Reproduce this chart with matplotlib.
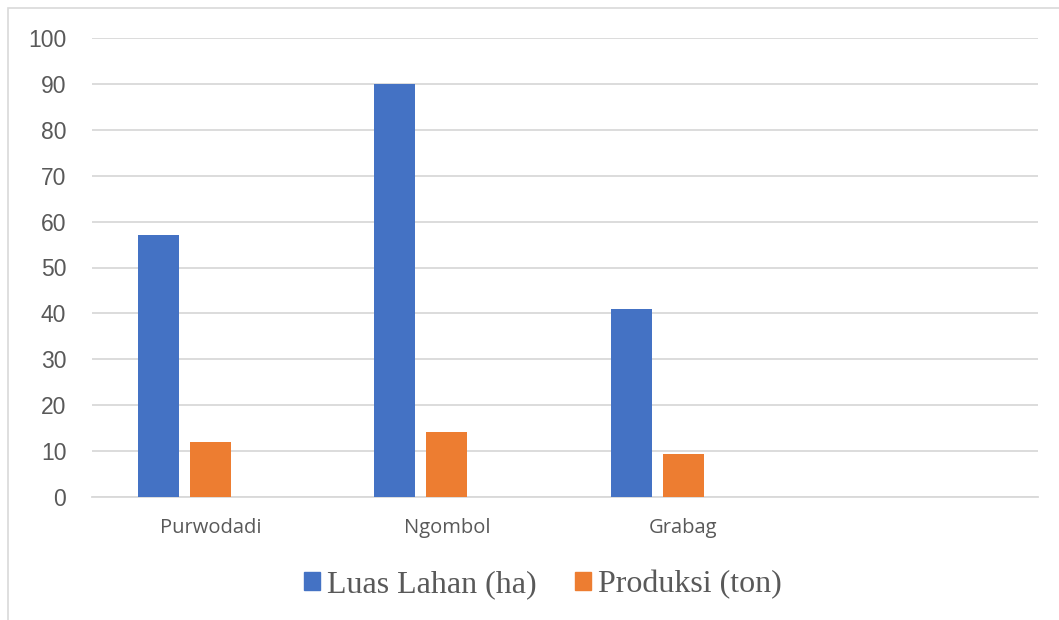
import numpy as np
import matplotlib.pyplot as plt
from matplotlib.patches import Patch, Rectangle

# data
categories = ["Purwodadi", "Ngombol", "Grabag", ""]
luas_lahan = [57, 90, 41, np.nan]
produksi = [12, 14.2, 9.3, np.nan]

blue = "#4472C4"
orange = "#ED7D31"
grid_c = "#D9D9D9"
text_c = "#595959"

fig = plt.figure(figsize=(10.59, 6.20), dpi=100)
ax = fig.add_axes([92 / 1059, 1 - 497 / 620, (1038 - 92) / 1059, (497 - 38) / 620])

x = np.arange(len(categories))
w = 0.173
step = 0.22
ax.bar(x - step, luas_lahan, width=w, color=blue, zorder=3)
ax.bar(x, produksi, width=w, color=orange, zorder=3)

ax.set_xlim(-0.5, len(categories) - 0.5)
ax.set_ylim(0, 100)
ax.set_yticks(np.arange(0, 101, 10))
ax.set_xticks(x)
ax.set_xticklabels(categories)

ax.grid(axis="y", color=grid_c, linewidth=1.3, zorder=0)
for side in ["top", "right", "left"]:
    ax.spines[side].set_visible(False)
ax.spines["bottom"].set_color(grid_c)
ax.spines["bottom"].set_linewidth(1.3)
ax.tick_params(axis="both", length=0, colors=text_c)
ax.tick_params(axis="y", pad=18.5, labelsize=16.5)
ax.tick_params(axis="x", pad=15, labelsize=14.5)
for lab in ax.get_yticklabels():
    lab.set_family("Liberation Sans")
for lab in ax.get_xticklabels():
    lab.set_family("Open Sans")

# chart frame (only top and left edges fall inside the picture)
fig.patches.append(Rectangle((8 / 1059, -0.1), 1.2, 1.1 - 8 / 620,
                             transform=fig.transFigure, fill=False,
                             edgecolor=grid_c, linewidth=1.2))

handles = [Patch(color=blue, label="Luas Lahan (ha)"),
           Patch(color=orange, label="Produksi (ton)")]
fig.legend(handles=handles, loc="center", bbox_to_anchor=(543 / 1059, 1 - 585 / 620),
           ncol=2, frameon=False, handlelength=0.5, handleheight=0.5,
           handletextpad=0.22, columnspacing=1.2,
           prop={"family": "Liberation Serif", "size": 23}, labelcolor=text_c)

fig.savefig("out.png", dpi=100)
